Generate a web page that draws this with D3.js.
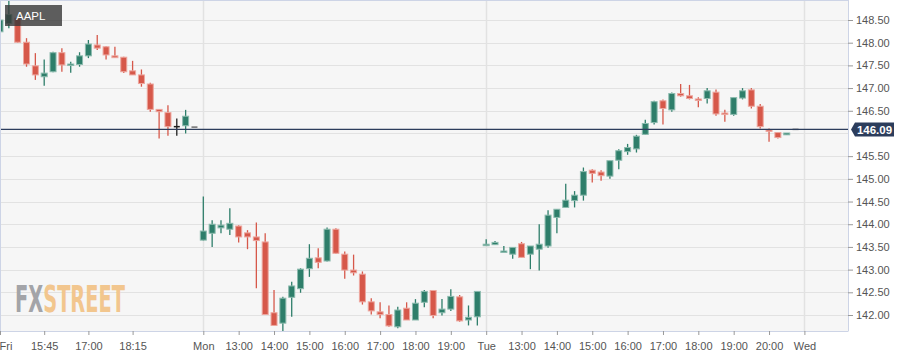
<!DOCTYPE html>
<html><head><meta charset="utf-8">
<script src="https://cdn.jsdelivr.net/npm/d3@7"></script>
<style>
html,body{margin:0;padding:0;background:#fff;}
svg{display:block;font-family:"Liberation Sans",Arial,sans-serif;}
</style></head>
<body>
<svg id="chart" width="919" height="357"></svg>
<script>
// ---- data (15-minute candles, contiguous slots) ----
const openV  = [148.24,148.42,148.54,148.01,147.49,147.25,147.36,147.78,147.50,147.52,147.71,147.95,147.91,147.71,147.68,147.38,147.29,147.09,146.53,146.46,146.15,146.17,146.14,
  143.65,143.80,143.92,143.89,143.96,143.81,143.72,143.61,142.05,141.82,142.39,142.58,143.02,143.26,143.19,143.89,143.34,142.99,142.90,142.29,142.07,142.01,141.74,142.15,141.89,142.28,142.54,142.05,142.13,142.40,141.89,141.96,
  143.54,143.55,143.38,143.34,143.57,143.34,143.45,143.52,144.15,144.37,144.52,144.64,145.19,145.15,145.06,145.41,145.60,145.66,145.98,146.24,146.72,146.52,146.88,146.83,146.76,146.77,146.91,146.45,146.42,146.78,146.96,146.60,146.08,146.02,145.97,146.09];
const highV  = [148.62,148.92,148.56,148.10,147.77,147.63,147.80,147.88,147.58,147.79,148.06,148.17,147.92,147.91,147.69,147.60,147.41,147.12,146.53,146.62,146.33,146.52,146.14,
  144.61,144.09,144.09,144.35,143.98,143.87,144.04,143.80,142.55,142.40,142.73,143.03,143.56,143.47,143.93,143.91,143.40,143.33,142.96,142.37,142.28,142.21,142.18,142.28,142.35,142.55,142.54,142.35,142.57,142.44,142.21,142.52,
  143.67,143.63,143.52,143.49,143.61,143.52,144.00,144.31,144.33,144.89,144.73,145.25,145.21,145.19,145.40,145.65,145.77,145.97,146.30,146.72,146.75,146.90,147.09,147.07,146.80,147.00,146.97,146.52,146.79,147.00,147.00,146.65,146.11,146.02,146.01,146.09];
const lowV   = [148.20,148.32,148.00,147.47,147.18,147.05,147.35,147.36,147.34,147.47,147.66,147.84,147.63,147.66,147.33,147.29,147.03,146.48,145.89,145.95,145.95,146.00,146.14,
  143.64,143.50,143.80,143.76,143.60,143.45,142.59,142.01,141.77,141.65,141.96,142.49,142.84,143.03,143.18,143.35,142.80,142.87,142.23,142.01,141.93,141.74,141.71,141.89,141.89,142.17,141.93,141.99,142.09,141.85,141.77,141.77,
  143.54,143.55,143.38,143.24,143.27,143.01,142.98,143.48,143.80,144.37,144.37,144.52,144.92,144.96,145.00,145.21,145.53,145.58,145.97,146.20,146.20,146.48,146.81,146.75,146.58,146.66,146.39,146.26,146.39,146.75,146.55,146.11,145.82,145.89,145.97,146.09];
const closeV = [148.50,148.62,148.01,147.53,147.29,147.33,147.78,147.51,147.53,147.71,147.97,147.88,147.73,147.67,147.36,147.29,147.10,146.53,146.48,146.15,146.15,146.38,146.14,
  143.85,144.00,143.98,144.02,143.72,143.72,143.64,142.01,141.77,142.37,142.64,143.01,143.25,143.16,143.89,143.36,142.99,142.93,142.29,142.09,142.01,141.76,142.11,141.89,142.26,142.52,141.99,142.13,142.41,141.87,141.95,142.52,
  143.56,143.60,143.41,143.49,143.27,143.52,143.56,144.20,144.33,144.53,144.64,145.16,145.12,145.07,145.40,145.62,145.69,145.94,146.22,146.70,146.55,146.88,146.83,146.77,146.74,146.94,146.43,146.42,146.79,146.94,146.60,146.15,146.05,145.91,146.01,146.09];

const xTickSlots  = [0,5,10,15,23,27,31,35,39,43,47,51,55,59,63,67,71,75,79,83,87,91];
const xTickLabels = ["Fri","15:45","17:00","18:15","Mon","13:00","14:00","15:00","16:00","17:00","18:00","19:00","Tue","13:00","14:00","15:00","16:00","17:00","18:00","19:00","20:00","Wed"];
const daySlots    = [23,55,91];
const yTickValues = [142,142.5,143,143.5,144,144.5,145,145.5,146,146.5,147,147.5,148,148.5];
const yLabelValues = [142,142.5,143,143.5,144,144.5,145,145.5,146.5,147,147.5,148,148.5];
const lastPrice   = 146.09;
const symbol      = "AAPL";

// ---- layout ----
const W = 848, H = 331;
const svg = d3.select("#chart");
const x = d3.scaleLinear().domain([0,96]).range([0,848.6]);
const y = d3.scaleLinear().domain([142,148.5]).range([315,20]);

svg.append("defs").append("clipPath").attr("id","plotclip")
  .append("rect").attr("x",0).attr("y",0).attr("width",W).attr("height",H);

svg.append("rect").attr("x",0).attr("y",0).attr("width",W).attr("height",H).attr("fill","#f6f6f6");

// grid
const grid = svg.append("g");
grid.selectAll("line.h").data(yTickValues).join("line")
  .attr("x1",0).attr("x2",W).attr("y1",d=>Math.round(y(d))+0.5).attr("y2",d=>Math.round(y(d))+0.5)
  .attr("stroke","#e2e2e2").attr("stroke-width",1);
grid.selectAll("line.v").data(daySlots).join("line")
  .attr("y1",0).attr("y2",H).attr("x1",d=>Math.round(x(d))+0.5).attr("x2",d=>Math.round(x(d))+0.5)
  .attr("stroke","#e2e2e2").attr("stroke-width",1.5);

// watermark
const wm = svg.append("text").attr("x",15).attr("y",312).attr("textLength",110).attr("lengthAdjust","spacingAndGlyphs")
  .attr("font-family","'DejaVu Sans Condensed','Liberation Sans Narrow',sans-serif").attr("font-weight","bold").attr("font-size",37);
wm.append("tspan").attr("fill","#a3a4a8").text("FX");
wm.append("tspan").attr("fill","#f2c68e").text("STREET");

// candles
const candles = openV.map((o,i)=>({i,o,h:highV[i],l:lowV[i],c:closeV[i]}));
const plot = svg.append("g").attr("clip-path","url(#plotclip)");
function col(d){
  if (d.c>d.o) return "#2e7e6a";
  if (d.c<d.o) return "#d6584a";
  return d.h===d.l ? "#707070" : "#1e1e1e";
}
function edge(d){
  if (d.c>d.o) return "#8cbbae";
  if (d.c<d.o) return "#eda79f";
  return col(d);
}
const cg = plot.selectAll("g.c").data(candles).join("g");
cg.filter(d=>d.h!==d.l).append("line")
  .attr("x1",d=>x(d.i)).attr("x2",d=>x(d.i))
  .attr("y1",d=>y(d.h)).attr("y2",d=>y(d.l))
  .attr("stroke",col).attr("stroke-width",1.3);
cg.append("rect")
  .attr("x",d=>x(d.i)-3)
  .attr("width",6)
  .attr("y",d=>Math.min(y(d.o),y(d.c)) - (d.o===d.c?0.75:0))
  .attr("height",d=>Math.max(Math.abs(y(d.o)-y(d.c)),1.5))
  .attr("fill",col)
  .attr("stroke",edge).attr("stroke-width",d=>d.o===d.c?0:1);

// last price line
plot.append("line").attr("x1",0).attr("x2",W).attr("y1",y(lastPrice)).attr("y2",y(lastPrice))
  .attr("stroke","#2c3d5c").attr("stroke-width",1.4);

// label box
const lbl = svg.append("g");
lbl.append("rect").attr("x",5).attr("y",5).attr("width",57).attr("height",21).attr("fill","rgba(55,55,55,0.8)");
lbl.append("text").attr("x",16).attr("y",20).attr("fill","#fff").attr("font-size",11.5).text(symbol);

// borders
svg.append("line").attr("x1",0).attr("x2",W).attr("y1",0.5).attr("y2",0.5).attr("stroke","#cdd4e6");
svg.append("line").attr("x1",0.5).attr("x2",0.5).attr("y1",0).attr("y2",H).attr("stroke","#cdd4e6");
svg.append("line").attr("x1",W+0.5).attr("x2",W+0.5).attr("y1",0).attr("y2",H+0.5).attr("stroke","#cdd4e6");
svg.append("line").attr("x1",0).attr("x2",W).attr("y1",H+0.5).attr("y2",H+0.5).attr("stroke","#cdd4e6");

// y axis
const yAxis = d3.axisRight(y).tickValues(yLabelValues).tickFormat(d3.format(".2f")).tickSize(5).tickPadding(3);
const ya = svg.append("g").attr("transform",`translate(${W},0)`).call(yAxis);
ya.select(".domain").remove();
ya.selectAll(".tick line").attr("stroke","#999");
ya.selectAll(".tick text").attr("fill","#555").attr("font-size",11).attr("font-family","'Liberation Sans',Arial,sans-serif");

// x axis
const xAxis = d3.axisBottom(x).tickValues(xTickSlots).tickFormat((d,i)=>xTickLabels[i]).tickSize(4).tickPadding(7);
const xa = svg.append("g").attr("transform",`translate(0,${H})`).call(xAxis);
xa.select(".domain").remove();
xa.selectAll(".tick line").attr("stroke","#999");
xa.selectAll(".tick text").attr("fill","#555").attr("font-size",11).attr("font-family","'Liberation Sans',Arial,sans-serif");
xa.selectAll(".tick").filter(d=>d===0).select("text").attr("text-anchor","start").attr("dx",-1);

// last price tag
const py = y(lastPrice);
svg.append("path")
  .attr("d",`M${W+3},${py} L${W+7},${py-7} L${W+46},${py-7} L${W+46},${py+7} L${W+7},${py+7} Z`)
  .attr("fill","#2c3d5c");
svg.append("text").attr("x",W+26.5).attr("y",py).attr("dy","0.36em").attr("text-anchor","middle")
  .attr("fill","#fff").attr("font-weight","bold").attr("font-size",11.5).text(lastPrice.toFixed(2));
</script>
</body></html>
